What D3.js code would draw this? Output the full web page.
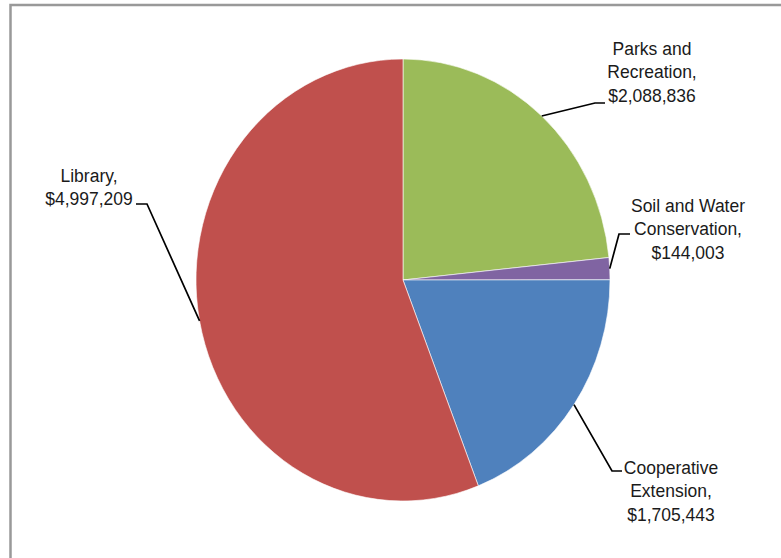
<!DOCTYPE html>
<html>
<head>
<meta charset="utf-8">
<script src="https://cdn.jsdelivr.net/npm/d3@7"></script>
<style>
  html, body { margin: 0; padding: 0; background: #fff; }
  svg { display: block; }
  .lbl { font-family: "Liberation Sans", Arial, sans-serif; font-size: 17.5px; fill: #1a1a1a; }
</style>
</head>
<body>
<div id="chart"></div>
<script>
// data, in drawing order (clockwise from 12 o'clock)
const categories = ["Parks and Recreation", "Soil and Water Conservation", "Cooperative Extension", "Library"];
const amounts = [2088836, 144003, 1705443, 4997209];
const labelLines = [
  ["Parks and", "Recreation,", "$2,088,836"],
  ["Soil and Water", "Conservation,", "$144,003"],
  ["Cooperative", "Extension,", "$1,705,443"],
  ["Library,", "$4,997,209"]
];
const colors = ["#9BBB59", "#8064A2", "#4F81BD", "#C0504D"];

// label layout: text centre x, first baseline y, elbow of leader, end of leader
const labelPos = [
  { x: 652, y: 55, elbow: [595, 103], end: [605, 103] },
  { x: 688, y: 212, elbow: [619, 234], end: [630, 234] },
  { x: 671, y: 474, elbow: [612, 471], end: [622, 471] },
  { x: 89, y: 182, elbow: [147, 204], end: [136, 204] }
];

const width = 781, height = 558;
const cx = 403, cy = 280, rx = 207, ry = 221;
const lineH = 23.5;
const sy = ry / rx; // the whole chart is a little taller than wide

const svg = d3.select("#chart").append("svg")
  .attr("width", width)
  .attr("height", height);

// chart frame (only top and left edges fall inside the window)
svg.append("rect")
  .attr("x", 10.5).attr("y", 5)
  .attr("width", 900).attr("height", 700)
  .attr("fill", "none")
  .attr("stroke", "#999")
  .attr("stroke-width", 2.5);

const data = categories.map((c, i) => ({ name: c, value: amounts[i], i: i }));

const pie = d3.pie().sort(null).value(d => d.value);
const arcs = pie(data);

const arc = d3.arc().innerRadius(0).outerRadius(rx);

const pieG = svg.append("g")
  .attr("transform", `translate(${cx},${cy}) scale(1,${sy})`);

pieG.selectAll("path")
  .data(arcs)
  .enter()
  .append("path")
  .attr("d", arc)
  .attr("fill", d => colors[d.data.i])
  .attr("stroke", "#fff")
  .attr("stroke-width", 0.6)
  .attr("vector-effect", "non-scaling-stroke");

// leader lines: from the middle of each slice's rim to the label
arcs.forEach(d => {
  const a = (d.startAngle + d.endAngle) / 2;
  const p0 = [cx + rx * Math.sin(a), cy - ry * Math.cos(a)];
  const lp = labelPos[d.data.i];
  svg.append("polyline")
    .attr("points", [p0, lp.elbow, lp.end].map(p => p.join(",")).join(" "))
    .attr("fill", "none")
    .attr("stroke", "#000")
    .attr("stroke-width", 1.7);
});

// labels
const lbl = svg.selectAll("g.lblg")
  .data(arcs)
  .enter()
  .append("g")
  .attr("class", "lblg")
  .attr("transform", d => `translate(${labelPos[d.data.i].x},${labelPos[d.data.i].y}) scale(1,${sy})`)
  .append("text")
  .attr("class", "lbl")
  .attr("text-anchor", "middle");

lbl.each(function(d) {
  labelLines[d.data.i].forEach((t, k) => {
    d3.select(this).append("tspan")
      .attr("x", 0)
      .attr("y", k * lineH / sy)
      .text(t);
  });
});
</script>
</body>
</html>
